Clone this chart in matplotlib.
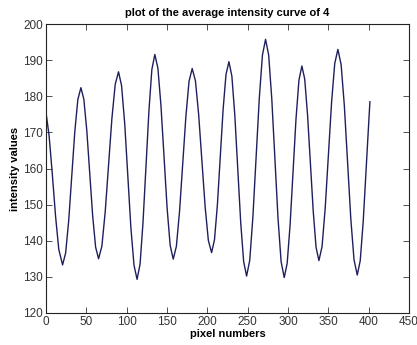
import numpy as np
import matplotlib
matplotlib.use("Agg")
from matplotlib import pyplot as plt

# pixel positions and averaged intensity
pixel = [0, 4, 8, 12, 16, 20.7,
         24.5, 28.3, 32.05, 35.8, 39.6, 43.4,
         47.05, 50.7, 54.35, 58.0, 61.65, 65.3,
         69.4, 73.5, 77.65, 81.8, 85.9, 90.0,
         93.8, 97.7, 101.5, 105.3, 109.2, 113.0,
         116.7, 120.3, 124.0, 127.7, 131.3, 135.0,
         138.8, 142.6, 146.4, 150.2, 154.0, 157.8,
         161.7, 165.6, 169.55, 173.5, 177.4, 181.3,
         185.3, 189.3, 193.3, 197.3, 201.3, 205.3,
         208.9, 212.5, 216.05, 219.6, 223.2, 226.8,
         230.45, 234.1, 237.75, 241.4, 245.05, 248.7,
         252.6, 256.5, 260.45, 264.4, 268.3, 272.2,
         276.05, 279.9, 283.75, 287.6, 291.45, 295.3,
         298.95, 302.6, 306.25, 309.9, 313.55, 317.2,
         320.7, 324.2, 327.75, 331.3, 334.8, 338.3,
         342.2, 346.1, 350.05, 354.0, 357.9, 361.8,
         365.8, 369.8, 373.8, 377.8, 381.8, 385.8,
         389.5, 393.2, 396.9, 400.6, 401.5]
intensity = [175.8, 169.1, 158.4, 146.8, 137.6, 133.3,
             136.6, 145.6, 157.85, 170.1, 179.1, 182.4,
             179.2, 170.55, 158.7, 146.85, 138.2, 135.0,
             138.5, 147.95, 160.9, 173.85, 183.3, 186.8,
             182.95, 172.4, 158.05, 143.7, 133.2, 129.3,
             133.5, 144.9, 160.45, 176.0, 187.4, 191.6,
             187.8, 177.4, 163.25, 149.1, 138.7, 134.9,
             138.45, 148.1, 161.3, 174.5, 184.2, 187.7,
             184.3, 174.95, 162.2, 149.45, 140.1, 136.7,
             140.25, 149.9, 163.15, 176.4, 186.1, 189.6,
             185.6, 174.75, 159.9, 145.05, 134.2, 130.2,
             134.6, 146.6, 163.0, 179.4, 191.4, 195.8,
             191.4, 179.3, 162.8, 146.3, 134.2, 129.8,
             133.7, 144.45, 159.1, 173.75, 184.5, 188.4,
             184.8, 174.9, 161.45, 148.0, 138.1, 134.5,
             138.4, 149.1, 163.75, 178.4, 189.1, 193.0,
             188.8, 177.4, 161.75, 146.1, 134.7, 130.5,
             134.5, 145.4, 160.25, 175.1, 178.5]

x_ticks = [0, 50, 100, 150, 200, 250, 300, 350, 400, 450]
y_ticks = [120, 130, 140, 150, 160, 170, 180, 190, 200]

plt.rcParams['font.family'] = ['Liberation Sans', 'DejaVu Sans']

fig = plt.figure(figsize=(4.17, 3.45), dpi=100)
ax = fig.add_axes([0.110, 0.093, 0.871, 0.837])

ax.plot(pixel, intensity, color='#1f1f5c', linewidth=1.0)

ax.set_xlim(0, 450)
ax.set_ylim(120, 200)
ax.set_xticks(x_ticks)
ax.set_yticks(y_ticks)
ax.tick_params(direction='in', length=4, width=0.6, top=True, right=True,
               labelsize=8.5, colors='#333333', pad=2)
for s in ax.spines.values():
    s.set_linewidth(0.8)
    s.set_color('#222222')

ax.set_title("plot of the average intensity curve of 4", fontsize=8,
             fontweight='bold', pad=6)
ax.set_xlabel("pixel numbers", fontsize=8, fontweight='bold', labelpad=1)
ax.set_ylabel("intensity values", fontsize=8, fontweight='bold', labelpad=2)

plt.savefig("out.png", dpi=100)
